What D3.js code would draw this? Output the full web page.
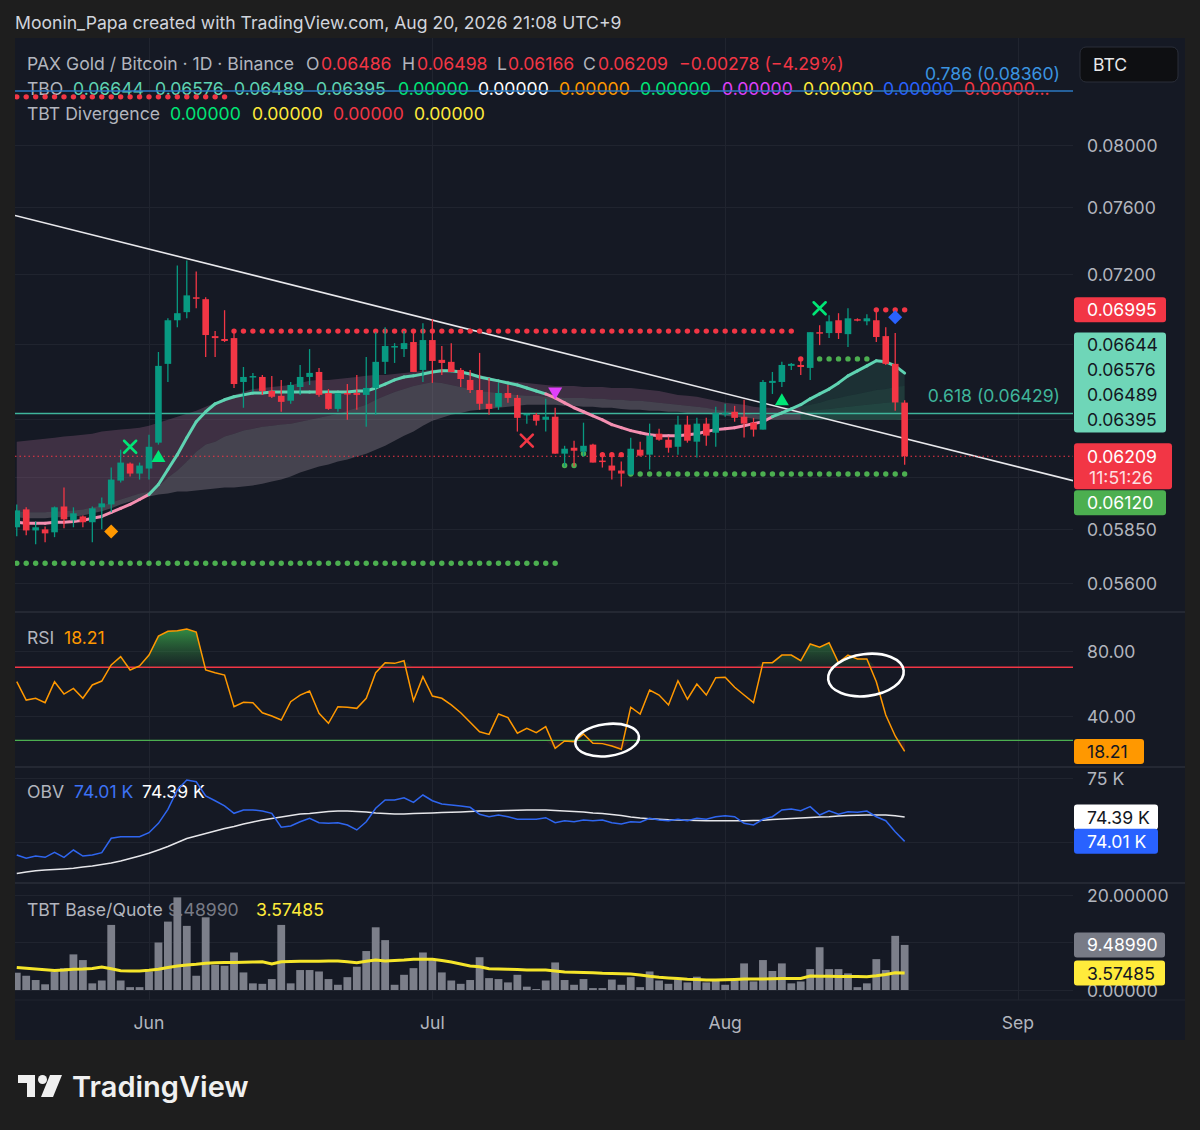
<!DOCTYPE html>
<html>
<head>
<meta charset="utf-8">
<script src="https://cdn.jsdelivr.net/npm/d3@7/dist/d3.min.js"></script>
<style>
html,body{margin:0;padding:0;background:#1e1e1e;}
svg{display:block;font-family:Inter,"Noto Sans",Roboto,sans-serif;}
</style>
</head>
<body>
<svg id="chart" width="1200" height="1130"></svg>
<script>
// ---------------- DATA ----------------
const headerText = "Moonin_Papa created with TradingView.com, Aug 20, 2026 21:08 UTC+9";
const symbolTitle = "PAX Gold / Bitcoin · 1D · Binance";
const quoteCurrency = "BTC";
const countdown = "11:51:26";
const firstDate = "2026-05-18";

const open = [0.05860,0.05946,0.05845,0.05850,0.05836,0.05960,0.05893,0.05912,0.05884,0.05956,
0.05970,0.06087,0.06172,0.06122,0.06147,0.06278,0.06694,0.06936,0.06982,0.07067,
0.07056,0.06847,0.06831,0.06836,0.06596,0.06623,0.06623,0.06548,0.06522,0.06496,
0.06569,0.06623,0.06650,0.06537,0.06453,0.06537,0.06537,0.06527,0.06564,0.06705,
0.06786,0.06775,0.06814,0.06661,0.06825,0.06716,0.06705,0.06661,0.06607,0.06553,
0.06480,0.06464,0.06537,0.06511,0.06422,0.06422,0.06396,0.06412,0.06222,0.06252,
0.06232,0.06268,0.06187,0.06162,0.06137,0.06117,0.06242,0.06217,0.06324,0.06293,
0.06257,0.06371,0.06283,0.06376,0.06329,0.06427,0.06438,0.06412,0.06381,0.06345,
0.06591,0.06596,0.06683,0.06688,0.06672,0.06869,0.06864,0.06936,0.06858,0.06942,
0.06930,0.06936,0.06847,0.06694,0.06486];
const high = [0.05970,0.05956,0.05888,0.05864,0.05960,0.06053,0.05956,0.05917,0.05960,0.06004,
0.06152,0.06242,0.06177,0.06177,0.06319,0.06759,0.06947,0.07253,0.07282,0.07217,
0.07067,0.06875,0.06993,0.06864,0.06677,0.06645,0.06634,0.06628,0.06607,0.06596,
0.06688,0.06775,0.06672,0.06558,0.06537,0.06585,0.06634,0.06732,0.06869,0.06897,
0.06808,0.06875,0.06875,0.06919,0.06942,0.06792,0.06808,0.06672,0.06661,0.06754,
0.06618,0.06591,0.06580,0.06527,0.06427,0.06432,0.06506,0.06459,0.06262,0.06288,
0.06381,0.06273,0.06227,0.06227,0.06182,0.06303,0.06283,0.06376,0.06350,0.06309,
0.06417,0.06417,0.06406,0.06406,0.06464,0.06480,0.06469,0.06501,0.06406,0.06607,
0.06650,0.06705,0.06699,0.06727,0.06869,0.06908,0.06964,0.06976,0.07004,0.06947,
0.06970,0.06993,0.06897,0.06864,0.06498];
const low = [0.05817,0.05822,0.05780,0.05789,0.05813,0.05855,0.05860,0.05860,0.05789,0.05850,
0.05932,0.06077,0.06107,0.06092,0.06092,0.06268,0.06596,0.06897,0.06947,0.07004,
0.06732,0.06732,0.06814,0.06564,0.06459,0.06543,0.06527,0.06511,0.06438,0.06480,
0.06527,0.06580,0.06517,0.06448,0.06438,0.06396,0.06448,0.06360,0.06422,0.06639,
0.06699,0.06732,0.06650,0.06596,0.06591,0.06634,0.06650,0.06569,0.06537,0.06448,
0.06422,0.06448,0.06485,0.06335,0.06376,0.06366,0.06335,0.06222,0.06157,0.06157,
0.06207,0.06177,0.06152,0.06092,0.06058,0.06117,0.06207,0.06142,0.06288,0.06227,
0.06217,0.06278,0.06202,0.06262,0.06257,0.06412,0.06386,0.06304,0.06309,0.06345,
0.06532,0.06569,0.06661,0.06634,0.06607,0.06797,0.06836,0.06831,0.06786,0.06930,
0.06908,0.06814,0.06688,0.06443,0.06166];
const close = [0.05941,0.05845,0.05860,0.05831,0.05956,0.05898,0.05927,0.05884,0.05951,0.05975,
0.06092,0.06177,0.06122,0.06162,0.06257,0.06683,0.06936,0.06976,0.07078,0.07061,
0.06853,0.06836,0.06820,0.06585,0.06623,0.06628,0.06548,0.06517,0.06490,0.06580,
0.06623,0.06645,0.06527,0.06453,0.06537,0.06532,0.06527,0.06564,0.06705,0.06792,
0.06792,0.06808,0.06650,0.06825,0.06710,0.06699,0.06650,0.06612,0.06553,0.06480,
0.06453,0.06537,0.06511,0.06406,0.06427,0.06391,0.06412,0.06222,0.06247,0.06237,
0.06262,0.06177,0.06182,0.06137,0.06122,0.06247,0.06212,0.06314,0.06293,0.06252,
0.06371,0.06288,0.06376,0.06314,0.06432,0.06432,0.06406,0.06376,0.06345,0.06596,
0.06602,0.06688,0.06694,0.06677,0.06869,0.06864,0.06930,0.06864,0.06947,0.06936,
0.06947,0.06842,0.06694,0.06487,0.06209];

// TBO lines: fast, medium, medium-slow, slow
const tboFast = [0.05884,0.05879,0.05879,0.05879,0.05884,0.05884,0.05888,0.05893,0.05903,0.05912,
0.05932,0.05951,0.05970,0.05994,0.06019,0.06068,0.06142,0.06217,0.06303,0.06386,
0.06438,0.06480,0.06501,0.06517,0.06527,0.06537,0.06537,0.06543,0.06543,0.06543,
0.06543,0.06543,0.06543,0.06543,0.06543,0.06543,0.06548,0.06548,0.06564,0.06585,
0.06607,0.06623,0.06629,0.06639,0.06650,0.06656,0.06656,0.06650,0.06639,0.06623,
0.06612,0.06602,0.06591,0.06580,0.06564,0.06548,0.06532,0.06511,0.06485,0.06459,
0.06438,0.06417,0.06396,0.06371,0.06355,0.06340,0.06329,0.06319,0.06314,0.06314,
0.06314,0.06319,0.06324,0.06335,0.06345,0.06350,0.06355,0.06365,0.06376,0.06386,
0.06412,0.06432,0.06453,0.06475,0.06506,0.06532,0.06558,0.06591,0.06629,0.06656,
0.06683,0.06711,0.06705,0.06683,0.06644];
const tboMedium = [0.06283,0.06288,0.06293,0.06298,0.06303,0.06309,0.06314,0.06319,0.06324,0.06335,
0.06340,0.06345,0.06350,0.06355,0.06365,0.06381,0.06396,0.06412,0.06427,0.06443,
0.06464,0.06485,0.06511,0.06527,0.06543,0.06558,0.06564,0.06569,0.06575,0.06580,
0.06591,0.06602,0.06607,0.06607,0.06612,0.06618,0.06623,0.06629,0.06634,0.06634,
0.06639,0.06645,0.06650,0.06656,0.06661,0.06667,0.06661,0.06656,0.06645,0.06634,
0.06623,0.06607,0.06602,0.06596,0.06591,0.06585,0.06580,0.06575,0.06575,0.06575,
0.06569,0.06569,0.06569,0.06564,0.06564,0.06564,0.06558,0.06553,0.06548,0.06537,
0.06527,0.06522,0.06517,0.06506,0.06496,0.06485,0.06480,0.06475,0.06464,0.06459,
0.06459,0.06459,0.06459,0.06464,0.06475,0.06485,0.06501,0.06511,0.06522,0.06532,
0.06543,0.06553,0.06558,0.06569,0.06576];
const tboMedSlow = [0.05937,0.05932,0.05932,0.05932,0.05937,0.05937,0.05941,0.05946,0.05956,0.05965,
0.05980,0.05994,0.06009,0.06023,0.06033,0.06058,0.06102,0.06137,0.06182,0.06232,
0.06268,0.06283,0.06309,0.06324,0.06340,0.06350,0.06360,0.06365,0.06371,0.06376,
0.06386,0.06396,0.06406,0.06417,0.06427,0.06443,0.06459,0.06475,0.06501,0.06522,
0.06543,0.06558,0.06575,0.06585,0.06596,0.06591,0.06580,0.06569,0.06558,0.06548,
0.06543,0.06537,0.06532,0.06527,0.06522,0.06522,0.06517,0.06517,0.06511,0.06511,
0.06511,0.06506,0.06506,0.06501,0.06501,0.06496,0.06496,0.06490,0.06485,0.06480,
0.06475,0.06469,0.06464,0.06459,0.06448,0.06443,0.06438,0.06432,0.06422,0.06417,
0.06422,0.06427,0.06432,0.06438,0.06443,0.06448,0.06453,0.06459,0.06464,0.06469,
0.06475,0.06480,0.06485,0.06490,0.06489];
const tboSlow = [0.05908,0.05903,0.05903,0.05903,0.05908,0.05908,0.05912,0.05917,0.05927,0.05937,
0.05951,0.05970,0.05984,0.05999,0.06009,0.06019,0.06023,0.06033,0.06033,0.06038,
0.06043,0.06048,0.06053,0.06053,0.06058,0.06063,0.06072,0.06082,0.06092,0.06107,
0.06127,0.06142,0.06157,0.06167,0.06182,0.06192,0.06207,0.06222,0.06242,0.06262,
0.06288,0.06314,0.06335,0.06365,0.06391,0.06406,0.06422,0.06432,0.06443,0.06448,
0.06453,0.06459,0.06464,0.06469,0.06475,0.06475,0.06475,0.06475,0.06469,0.06469,
0.06464,0.06464,0.06459,0.06459,0.06453,0.06448,0.06448,0.06443,0.06443,0.06438,
0.06438,0.06432,0.06432,0.06427,0.06422,0.06417,0.06412,0.06406,0.06401,0.06396,
0.06396,0.06396,0.06396,0.06396,0.06396,0.06396,0.06396,0.06396,0.06396,0.06396,
0.06396,0.06396,0.06396,0.06396,0.06395];
const tboExtraValues = [0,0,0,0,0,0,0,0];
const divergenceValues = [0,0,0,0];

// TBO support / resistance dot runs
const resistanceStart = [0,23,62,83,91];
const resistanceEnd   = [22,82,64,83,94];
const resistancePrice = [0.0832,0.06875,0.06217,0.06721,0.06995];
const supportStart = [0,58,60,65,85];
const supportEnd   = [57,59,60,94,90];
const supportPrice = [0.05691,0.06162,0.06222,0.06120,0.06721];

// Signals
const signalIndex = [10,12,15,54,57,81,85,93];
const signalPrice = [0.05840,0.06257,0.06207,0.06288,0.06537,0.06501,0.07004,0.06953];
const signalKind  = ["diamondOrange","xGreen","triUpGreen","xRed","triDownMagenta","triUpGreen","xGreen","diamondBlue"];

// Trend line anchors and fib levels
const trendDates = ["2026-05-18","2026-09-05"];
const trendPrices = [0.07551,0.06108];
const fibRatios = ["0.618","0.786"];
const fibPrices = [0.06429,0.08360];

// RSI
const rsi = [61.1,49.8,50.9,48.2,61.1,53.5,57.0,50.9,59.1,61.5,
71.4,76.5,68.3,70.8,77.5,89.2,92.1,92.5,93.5,91.7,
68.3,66.6,65.2,45.7,48.4,48.2,42.0,40.0,37.5,48.8,
52.9,55.4,41.7,35.5,45.7,45.4,44.7,50.9,66.6,72.8,
72.4,74.0,49.4,64.2,52.3,50.9,46.8,42.0,36.1,30.3,
28.7,41.2,39.0,29.4,32.4,29.7,33.4,20.1,24.6,24.2,
28.9,23.2,23.0,21.5,19.5,45.4,41.2,56.0,52.9,46.8,
61.7,50.3,59.7,52.9,63.6,63.8,57.7,52.9,48.2,72.8,
72.8,77.5,77.5,74.0,84.3,82.3,85.1,72.8,77.5,75.1,
75.1,61.1,40.6,27.7,18.21];
const rsiLevels = [70,25];
const rsiCircleIndex = [62.5,89.9];
const rsiCircleValue = [25.2,65.2];

// OBV
const obv = [73797,73745,73781,73761,73839,73761,73875,73781,73797,73833,
74058,74083,74083,74083,74145,74292,74511,74813,74969,74942,
74719,74645,74563,74448,74500,74500,74484,74448,74230,74250,
74317,74370,74302,74292,74302,74266,74188,74317,74527,74656,
74656,74692,74620,74734,74645,74594,74578,74563,74542,74433,
74395,74422,74395,74355,74355,74355,74380,74302,74333,74317,
74344,74333,74344,74302,74281,74317,74308,74370,74344,74333,
74355,74333,74370,74355,74395,74411,74395,74292,74266,74355,
74395,74500,74516,74489,74552,74422,74489,74433,74473,74464,
74484,74395,74333,74161,74010];
const obvMA = [73508,73531,73552,73562,73570,73578,73589,73609,73625,73648,
73672,73703,73742,73781,73823,73875,73930,73992,74055,74094,
74133,74172,74211,74242,74281,74313,74344,74367,74391,74414,
74438,74445,74461,74477,74484,74484,74477,74469,74453,74445,
74438,74438,74445,74448,74453,74461,74464,74469,74477,74484,
74484,74489,74492,74497,74500,74500,74500,74492,74484,74477,
74469,74453,74445,74430,74414,74391,74375,74364,74356,74347,
74344,74341,74336,74333,74333,74333,74333,74333,74336,74341,
74352,74359,74367,74375,74383,74391,74395,74406,74414,74419,
74422,74422,74422,74409,74390];

// TBT Base/Quote
const baseQuote = [3.64,3.0,2.1,1.2,3.9,4.6,7.5,6.3,1.4,2.0,
13.7,2.0,0.6,0.6,3.9,10.0,14.4,19.5,13.5,3.0,
15.3,5.3,5.1,7.9,3.7,1.4,1.3,2.3,13.7,1.4,
4.2,4.2,3.9,2.3,1.1,2.7,4.9,8.2,13.2,10.5,
1.1,3.2,4.6,7.9,6.3,3.7,2.0,1.3,2.1,6.9,
2.5,2.3,1.6,3.2,0.7,0.2,2.0,5.8,2.1,1.1,
2.3,0.4,0.4,2.2,1.1,2.7,0.6,3.9,2.0,1.3,
2.2,1.6,2.8,1.6,2.0,1.1,2.0,5.6,1.8,6.3,
4.0,5.6,1.4,1.8,4.4,9.0,4.4,4.4,3.5,0.6,
1.4,6.5,4.2,11.4,9.4899];
const baseQuoteMA = [4.74,4.57,4.42,4.25,4.11,4.21,4.36,4.42,4.53,4.84,
4.48,4.06,4.00,4.00,4.15,4.36,4.74,5.05,5.26,5.41,
5.62,5.75,5.79,5.81,5.83,5.89,5.96,5.47,5.96,6.00,
6.04,6.04,6.06,6.08,6.11,5.94,5.75,6.04,6.32,6.11,
6.21,6.32,6.48,6.48,6.46,6.21,5.89,5.47,5.05,4.91,
4.48,4.42,4.36,4.29,4.21,4.21,4.21,4.00,3.79,3.75,
3.68,3.64,3.52,3.47,3.41,3.37,3.16,2.88,2.67,2.53,
2.40,2.27,2.19,2.11,2.11,2.17,2.23,2.29,2.32,2.34,
2.36,2.40,2.42,2.44,2.95,2.91,2.88,2.86,2.84,2.82,
2.80,2.99,3.28,3.62,3.57485];

// Axis ticks
const monthLabels = ["Jun","Jul","Aug","Sep"];
const priceTicks = [0.08,0.076,0.072,0.068,0.064,0.061,0.0585,0.056];
const rsiTicks = [80,40];
const obvTicks = [75000,74000];
const bqTicks = [20,10,0];

// ---------------- LAYOUT / STYLE ----------------
const W = 1200, H = 1130;
const X0 = 15, X1 = 1073, XR = 1185, TOP = 38, BOTTOM = 1040, AXY = 1000;
const P = {main:[TOP,612], rsi:[612,767], obv:[767,883], bq:[883,AXY]};
const COL = {
  outer:"#1e1e1e", chart:"#151924", grid:"#20242f", sep:"#2a2e39", text:"#b2b5be",
  up:"#089981", down:"#f23645", teal:"#5fd3b2", pink:"#f48fb1", green:"#00e676",
  dotRed:"#f23645", dotGreen:"#4caf50", orange:"#ff9800", magenta:"#e040fb",
  yellow:"#ffeb3b", blue:"#2962ff", white:"#ffffff", grey:"#787b86"
};
const FS = 17.6;

const n = open.length;
const t0 = new Date(firstDate + "T00:00:00Z");
const DAY = 86400000;
const x = d3.scaleUtc()
  .domain([new Date("2026-06-01T00:00:00Z"), new Date("2026-09-01T00:00:00Z")])
  .range([149, 1018]);
const X = i => x(new Date(t0.getTime() + i * DAY));
const y  = d3.scaleLog().domain([0.08, 0.056]).range([145, 583]);
const yR = d3.scaleLinear().domain([80, 40]).range([651, 716]);
const yO = d3.scaleLinear().domain([75000, 74000]).range([778, 842]);
const yB = d3.scaleLinear().domain([20, 0]).range([895, 990]);

const f5 = d3.format(".5f");
const f2 = d3.format(".2f");
const fK = v => (v/1000).toFixed(2) + " K";
const neg = s => s.replace(/-/g, "\u2212");

const svg = d3.select("#chart");
const defs = svg.append("defs");
Object.entries(P).forEach(([k,[a,b]]) => {
  defs.append("clipPath").attr("id","clip-"+k).append("rect")
    .attr("x",X0).attr("y",a).attr("width",X1-X0).attr("height",b-a);
});
const gOB = defs.append("linearGradient").attr("id","gOB").attr("gradientUnits","userSpaceOnUse")
  .attr("x1",0).attr("x2",0).attr("y1",yR(92)).attr("y2",yR(70));
gOB.append("stop").attr("offset",0).attr("stop-color","#3aa64a").attr("stop-opacity",0.75);
gOB.append("stop").attr("offset",1).attr("stop-color","#2f7d3a").attr("stop-opacity",0.12);
const gOS = defs.append("linearGradient").attr("id","gOS").attr("gradientUnits","userSpaceOnUse")
  .attr("x1",0).attr("x2",0).attr("y1",yR(25)).attr("y2",yR(18));
gOS.append("stop").attr("offset",0).attr("stop-color","#f23645").attr("stop-opacity",0.05);
gOS.append("stop").attr("offset",1).attr("stop-color","#f23645").attr("stop-opacity",0.3);

// backgrounds
svg.append("rect").attr("width",W).attr("height",H).attr("fill",COL.outer);
svg.append("rect").attr("x",X0).attr("y",TOP).attr("width",XR-X0).attr("height",BOTTOM-TOP).attr("fill",COL.chart);

function txt(g, xx, yy, s, fill, opts={}) {
  return g.append("text").attr("x",xx).attr("y",yy).attr("dominant-baseline","central")
    .attr("font-size",opts.size||FS).attr("font-weight",opts.weight||400)
    .attr("text-anchor",opts.anchor||"start").attr("fill",fill).text(s);
}

// header
txt(svg, 15, 22, headerText, "#d1d4dc");

// ---------------- GRID ----------------
const grid = svg.append("g").attr("stroke",COL.grid).attr("stroke-width",1).attr("shape-rendering","crispEdges");
const monthTicks = d3.utcMonth.range(new Date("2026-06-01T00:00:00Z"), new Date("2026-09-02T00:00:00Z"));
monthTicks.forEach(d => grid.append("line").attr("x1",x(d)).attr("x2",x(d)).attr("y1",TOP).attr("y2",AXY));
priceTicks.forEach(v => grid.append("line").attr("x1",X0).attr("x2",X1).attr("y1",y(v)).attr("y2",y(v)));
rsiTicks.forEach(v => grid.append("line").attr("x1",X0).attr("x2",X1).attr("y1",yR(v)).attr("y2",yR(v)));
obvTicks.forEach(v => grid.append("line").attr("x1",X0).attr("x2",X1).attr("y1",yO(v)).attr("y2",yO(v)));
bqTicks.forEach(v => grid.append("line").attr("x1",X0).attr("x2",X1).attr("y1",yB(v)).attr("y2",yB(v)));
const seps = svg.append("g").attr("stroke",COL.sep).attr("stroke-width",1.5);
[P.rsi[0], P.obv[0], P.bq[0]].forEach(v => seps.append("line").attr("x1",X0).attr("x2",XR).attr("y1",v).attr("y2",v));
svg.append("line").attr("x1",X0).attr("x2",XR).attr("y1",AXY).attr("y2",AXY).attr("stroke",COL.grid);

// ---------------- LEGENDS ----------------
const leg = svg.append("g");
const last = n - 1;
const chg = close[last] - close[last-1];
const chgPct = chg / close[last-1] * 100;
txt(leg, 27, 63, symbolTitle, COL.text);
[["O",306,open[last]],["H",402,high[last]],["L",497,low[last]],["C",583,close[last]]].forEach(([k,xx,v]) => {
  txt(leg, xx, 63, k, COL.text);
  txt(leg, xx + (k==="L"?11:15), 63, f5(v), COL.down);
});
txt(leg, 679, 63, neg(f5(chg) + " (" + f2(chgPct) + "%)"), COL.down);

txt(leg, 27, 88, "TBO", COL.text);
[tboFast[last], tboMedium[last], tboMedSlow[last], tboSlow[last]].forEach((v,k) => txt(leg, [73,155,234,316][k], 88, f5(v), COL.teal));
const extraCols = [COL.green, COL.white, COL.orange, COL.green, COL.magenta, COL.yellow, COL.blue, COL.down];
const extraX = [398,478,559,640,722,803,883,964];
tboExtraValues.forEach((v,k) => txt(leg, extraX[k], 88, f5(v) + (k===tboExtraValues.length-1 ? "..." : ""), extraCols[k]));

txt(leg, 27, 113, "TBT Divergence", COL.text);
const divCols = [COL.green, COL.yellow, COL.down, COL.yellow];
divergenceValues.forEach((v,k) => txt(leg, [170,252,333,414][k], 113, f5(v), divCols[k]));

txt(leg, 27, 637, "RSI", COL.text);
txt(leg, 64, 637, f2(rsi[last]), COL.orange);
txt(leg, 27, 791, "OBV", COL.text);
txt(leg, 74, 791, fK(obv[last]), "#3d72f5");
txt(leg, 142, 791, fK(obvMA[last]), COL.white);
txt(leg, 27, 909, "TBT Base/Quote", COL.text);
txt(leg, 168, 909, f5(baseQuote[last]), COL.grey);
txt(leg, 256, 909, f5(baseQuoteMA[last]), COL.yellow);

// ---------------- MAIN PANE ----------------
const gm = svg.append("g").attr("clip-path","url(#clip-main)");

// TBO cloud
const aligned = d3.range(n).map(i => tboFast[i] > tboMedium[i] && tboMedium[i] > tboMedSlow[i] && tboMedSlow[i] > tboSlow[i]);
const runs = [];
let rs = 0;
for (let i = 1; i <= n; i++) {
  if (i === n || aligned[i] !== aligned[rs]) { runs.push({s: rs, e: Math.min(i, n-1), bull: aligned[rs]}); rs = i; }
}
const bandArea = (a, b) => d3.area().x(i => X(i)).y0(i => y(a[i])).y1(i => y(b[i]));
runs.forEach(r => {
  const idx = d3.range(r.s, r.e + 1);
  if (r.bull) {
    gm.append("path").attr("d", bandArea(tboFast, tboMedium)(idx)).attr("fill","rgba(81,211,160,0.13)");
    gm.append("path").attr("d", bandArea(tboMedium, tboMedSlow)(idx)).attr("fill","rgba(81,211,160,0.18)");
    gm.append("path").attr("d", bandArea(tboMedSlow, tboSlow)(idx)).attr("fill","rgba(81,211,160,0.24)");
  } else {
    gm.append("path").attr("d", bandArea(tboMedium, tboMedSlow)(idx)).attr("fill","rgba(181,117,160,0.26)");
    gm.append("path").attr("d", bandArea(tboMedSlow, tboSlow)(idx)).attr("fill","rgba(198,182,195,0.27)");
  }
});

// fib lines
const fibCols = ["#3fb59b", "#2b78c2"];
const fibTextCols = ["#3fb59b", "#3b94e0"];
fibPrices.forEach((p,k) => {
  gm.append("line").attr("x1",X0).attr("x2",X1).attr("y1",y(p)).attr("y2",y(p))
    .attr("stroke",fibCols[k]).attr("stroke-width",1.6);
});
// trend line (extended across pane)
const tx1 = x(new Date(trendDates[0]+"T00:00:00Z")), ty1 = y(trendPrices[0]);
const tx2 = x(new Date(trendDates[1]+"T00:00:00Z")), ty2 = y(trendPrices[1]);
const slope = (ty2 - ty1) / (tx2 - tx1);
gm.append("line").attr("x1",X0).attr("y1",ty1 + slope*(X0-tx1)).attr("x2",X1).attr("y2",ty1 + slope*(X1-tx1))
  .attr("stroke","#e8e8ec").attr("stroke-width",1.6);
// current price dotted line
gm.append("line").attr("x1",X0).attr("x2",X1).attr("y1",y(close[last])).attr("y2",y(close[last]))
  .attr("stroke",COL.down).attr("stroke-width",1.2).attr("stroke-dasharray","1.5,3");

// support / resistance dots
function dots(starts, ends, prices, color) {
  starts.forEach((s,k) => {
    d3.range(s, ends[k] + 1).forEach(i => {
      gm.append("circle").attr("cx",X(i)).attr("cy",y(prices[k])).attr("r",2.7).attr("fill",color);
    });
  });
}
dots(resistanceStart, resistanceEnd, resistancePrice, COL.dotRed);
dots(supportStart, supportEnd, supportPrice, COL.dotGreen);

// fast line (coloured by trend vs medium-slow)
for (let i = 1; i < n; i++) {
  gm.append("line").attr("x1",X(i-1)).attr("y1",y(tboFast[i-1])).attr("x2",X(i)).attr("y2",y(tboFast[i]))
    .attr("stroke", tboFast[i] > tboMedSlow[i] ? COL.teal : COL.pink)
    .attr("stroke-width",3).attr("stroke-linecap","round");
}

// candles
const cw = 6.6;
const cIdx = d3.range(n);
gm.selectAll(".wick").data(cIdx).join("line")
  .attr("x1",i=>X(i)).attr("x2",i=>X(i)).attr("y1",i=>y(high[i])).attr("y2",i=>y(low[i]))
  .attr("stroke",i=>close[i]>=open[i]?COL.up:COL.down).attr("stroke-width",1.3);
gm.selectAll(".body").data(cIdx).join("rect")
  .attr("x",i=>X(i)-cw/2).attr("width",cw)
  .attr("y",i=>y(Math.max(open[i],close[i])))
  .attr("height",i=>Math.max(1.5, y(Math.min(open[i],close[i])) - y(Math.max(open[i],close[i]))))
  .attr("fill",i=>close[i]>=open[i]?COL.up:COL.down);

// signals
const shapes = {
  diamondOrange: {d:"M0,-7L7,0L0,7L-7,0Z", fill:COL.orange},
  diamondBlue:   {d:"M0,-7L7,0L0,7L-7,0Z", fill:COL.blue},
  triUpGreen:    {d:"M0,-6.5L7,5.5L-7,5.5Z", fill:COL.green},
  triDownMagenta:{d:"M-7,-5.5L7,-5.5L0,6.5Z", fill:COL.magenta},
  xGreen:        {d:"M-6,-6L6,6M6,-6L-6,6", stroke:COL.green},
  xRed:          {d:"M-6,-6L6,6M6,-6L-6,6", stroke:COL.down}
};
signalIndex.forEach((si,k) => {
  const s = shapes[signalKind[k]];
  gm.append("path").attr("d",s.d).attr("transform",`translate(${X(si)},${y(signalPrice[k])})`)
    .attr("fill",s.fill||"none").attr("stroke",s.stroke||"none").attr("stroke-width",2.6).attr("stroke-linecap","round");
});

// fib labels
fibPrices.forEach((p,k) => txt(svg, 1060, y(p) - 17.5, fibRatios[k] + " (" + f5(p) + ")", fibTextCols[k], {anchor:"end"}));

// ---------------- RSI PANE ----------------
const gr = svg.append("g").attr("clip-path","url(#clip-rsi)");
gr.append("line").attr("x1",X0).attr("x2",X1).attr("y1",yR(rsiLevels[0])).attr("y2",yR(rsiLevels[0])).attr("stroke","#f23645").attr("stroke-width",1.5);
gr.append("line").attr("x1",X0).attr("x2",X1).attr("y1",yR(rsiLevels[1])).attr("y2",yR(rsiLevels[1])).attr("stroke","#4caf50").attr("stroke-width",1.3);
gr.append("path").attr("d", d3.area().x(i=>X(i)).y0(yR(rsiLevels[0])).y1(i=>yR(Math.max(rsi[i],rsiLevels[0])))(cIdx)).attr("fill","url(#gOB)");
gr.append("path").attr("d", d3.area().x(i=>X(i)).y0(yR(rsiLevels[1])).y1(i=>yR(Math.min(rsi[i],rsiLevels[1])))(cIdx)).attr("fill","url(#gOS)");
gr.append("path").attr("d", d3.line().x(i=>X(i)).y(i=>yR(rsi[i]))(cIdx)).attr("fill","none").attr("stroke",COL.orange).attr("stroke-width",1.5);
// hand-drawn annotation circles
const circR = [[32,16],[38,21]];
rsiCircleIndex.forEach((ci,k) => {
  gr.append("ellipse").attr("cx",X(ci)).attr("cy",yR(rsiCircleValue[k])).attr("rx",circR[k][0]).attr("ry",circR[k][1])
    .attr("transform",`rotate(-7,${X(ci)},${yR(rsiCircleValue[k])})`)
    .attr("fill","none").attr("stroke","#ffffff").attr("stroke-width",2.6);
});

// ---------------- OBV PANE ----------------
const go = svg.append("g").attr("clip-path","url(#clip-obv)");
go.append("path").attr("d", d3.line().x(i=>X(i)).y(i=>yO(obvMA[i]))(cIdx)).attr("fill","none").attr("stroke","#e6e6ea").attr("stroke-width",1.5);
go.append("path").attr("d", d3.line().x(i=>X(i)).y(i=>yO(obv[i]))(cIdx)).attr("fill","none").attr("stroke","#2f66f0").attr("stroke-width",1.5);

// ---------------- BASE/QUOTE PANE ----------------
const gb = svg.append("g").attr("clip-path","url(#clip-bq)");
gb.selectAll(".bar").data(cIdx).join("rect")
  .attr("x",i=>X(i)-3.9).attr("width",7.8)
  .attr("y",i=>yB(baseQuote[i])).attr("height",i=>yB(0)-yB(baseQuote[i]))
  .attr("fill","#7c7f8a");
gb.append("path").attr("d", d3.line().x(i=>X(i)).y(i=>yB(baseQuoteMA[i]))(cIdx)).attr("fill","none").attr("stroke","#f5e52a").attr("stroke-width",3);

// ---------------- AXES ----------------
const ax = svg.append("g");
// price-scale tags occupy these rows; labels that would sit fully under a tag are not drawn
const tagRowsMain = [[y(tboSlow[last]) - 87.5, y(tboSlow[last]) + 12.5], [y(close[last]) - 13, y(close[last]) + 33]];
const covered = (yy, rows) => rows.some(([a,b]) => yy - 8 >= a && yy + 8 <= b);
priceTicks.forEach(v => { if (!covered(y(v), tagRowsMain)) txt(ax, 1087, y(v), f5(v), COL.text); });
rsiTicks.forEach(v => txt(ax, 1087, yR(v), f2(v), COL.text));
obvTicks.forEach(v => { if (!covered(yO(v), [[yO(obv[last]) - 12.5, yO(obv[last]) + 12.5]])) txt(ax, 1087, yO(v), (v/1000) + " K", COL.text); });
bqTicks.forEach(v => txt(ax, 1087, yB(v), f5(v), COL.text));
monthTicks.forEach((d,k) => txt(ax, x(d), 1022, monthLabels[k], COL.text, {anchor:"middle"}));

function tag(yc, h, w, fill, label, color, yTop) {
  const top = yTop !== undefined ? yTop : yc - h/2;
  ax.append("rect").attr("x",1074).attr("y",top).attr("width",w).attr("height",h).attr("rx",3).attr("fill",fill);
  if (label !== null) txt(ax, 1087, top + h/2, label, color);
  return top + h;
}
// resistance label
tag(y(resistancePrice[resistancePrice.length-1]), 25, 92, COL.down, f5(resistancePrice[resistancePrice.length-1]), COL.white);
// TBO stack
const tboLast = [tboFast[last], tboMedium[last], tboMedSlow[last], tboSlow[last]];
const rowH = 25;
const stackBottomC = y(tboSlow[last]);
const stackTop = stackBottomC - 3*rowH - rowH/2;
ax.append("rect").attr("x",1074).attr("y",stackTop).attr("width",92).attr("height",4*rowH).attr("rx",3).attr("fill","#6fd6b8");
tboLast.forEach((v,k) => txt(ax, 1087, stackTop + rowH/2 + k*rowH, f5(v), "#131722"));
// current price + countdown
const pTop = y(close[last]) - 13;
ax.append("rect").attr("x",1074).attr("y",pTop).attr("width",98).attr("height",46).attr("rx",3).attr("fill",COL.down);
txt(ax, 1087, y(close[last]), f5(close[last]), COL.white);
txt(ax, 1089, y(close[last]) + 21, countdown, "rgba(255,255,255,0.85)");
// support label
const sp = supportPrice[3];
tag(null, 25, 92, COL.dotGreen, f5(sp), COL.white, Math.max(y(sp) - 12.5, pTop + 47));
// RSI tag
tag(yR(rsi[last]), 25, 70, COL.orange, f2(rsi[last]), "#131722");
// OBV tags
tag(yO(obvMA[last]), 25, 84, "#ffffff", fK(obvMA[last]), "#131722");
tag(yO(obv[last]), 25, 84, COL.blue, fK(obv[last]), COL.white);
// Base/Quote tags
tag(yB(baseQuote[last]), 25, 91, COL.grey, f5(baseQuote[last]), COL.white);
tag(yB(baseQuoteMA[last]), 25, 91, COL.yellow, f5(baseQuoteMA[last]), "#131722");

// BTC currency box
svg.append("rect").attr("x",1080).attr("y",47).attr("width",98).attr("height",35).attr("rx",6)
  .attr("fill","#0e0f12").attr("stroke","#2a2e39");
txt(svg, 1093, 64.5, quoteCurrency, "#e8e8ea");

// ---------------- LOGO ----------------
const logo = svg.append("g").attr("fill","#f0f0f0");
logo.append("path").attr("d","M18,1075H35V1097H27V1083H18Z");
logo.append("circle").attr("cx",42.5).attr("cy",1079.5).attr("r",4.5);
logo.append("path").attr("d","M50,1075H62L53,1097H41Z");
txt(logo, 72, 1086, "TradingView", "#f0f0f0", {size:29, weight:600});
</script>
</body>
</html>
